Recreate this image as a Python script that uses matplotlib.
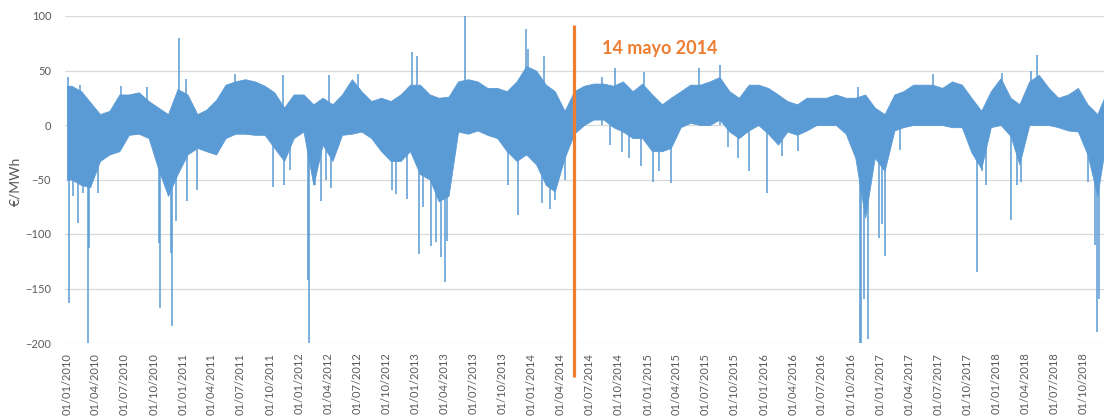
import matplotlib
matplotlib.use('Agg')
import matplotlib.pyplot as plt
import numpy as np
import pandas as pd

BLUE = '#5B9BD5'
ORANGE = '#ED7D31'
GREY = '#595959'

# monthly band of the price spread (EUR/MWh), Jan 2010 .. Dec 2018
band_hi = [40, 35, 25, 14, 17, 32, 32, 34, 26, 20, 14, 37,
           32, 14, 18, 27, 41, 44, 46, 44, 40, 34, 20, 32,
           32, 23, 29, 23, 32, 46, 35, 26, 29, 26, 32, 41,
           41, 32, 29, 30, 44, 46, 44, 38, 38, 35, 44, 58,
           54, 41, 35, 17, 35, 40, 42, 42, 40, 44, 35, 42,
           32, 23, 29, 35, 41, 41, 44, 48, 35, 29, 41, 41,
           38, 32, 26, 23, 29, 29, 29, 32, 29, 29, 32, 20,
           14, 32, 35, 41, 41, 41, 38, 44, 41, 29, 17, 35,
           47, 29, 23, 44, 50, 38, 29, 32, 38, 23, 14, 35]
band_lo = [-55, -60, -62, -38, -32, -29, -14, -8, -17, -45, -70, -50,
           -32, -26, -29, -32, -17, -8, -8, -9, -14, -26, -38, -17,
           -11, -60, -23, -38, -14, -8, -11, -17, -29, -38, -38, -29,
           -50, -55, -75, -70, -11, -8, -5, -14, -17, -29, -38, -32,
           -41, -60, -66, -35, -8, 0, 5, 5, -2, -11, -17, -17,
           -29, -29, -26, -2, 2, 0, 0, 5, -11, -17, -5, 0,
           -8, -23, -11, -14, -5, 0, 0, 0, -8, -35, -90, -35,
           -47, -5, -2, 0, 0, 0, 0, -2, -2, -30, -45, -2,
           0, -10, -41, 0, 0, 0, -2, -5, -11, -32, -70, -10]

# isolated peaks that stick out of the band
spike_dates = ['2010-01-08', '2010-01-20', '2010-02-05', '2010-02-20', '2010-03-07',
               '2010-03-10', '2010-04-10', '2010-10-18', '2010-10-21', '2010-11-25',
               '2010-11-28', '2010-12-10', '2010-12-20', '2011-01-15', '2011-02-15',
               '2011-10-10', '2011-11-15', '2011-12-05', '2012-01-28', '2012-02-01',
               '2012-02-20', '2012-03-10', '2012-03-25', '2012-04-10', '2012-10-18',
               '2012-11-01', '2012-12-06', '2012-12-21', '2013-01-12', '2013-01-25',
               '2013-02-18', '2013-03-06', '2013-03-21', '2013-04-03', '2013-04-10',
               '2013-06-07', '2013-10-20', '2013-11-18', '2013-12-13', '2013-12-20',
               '2014-02-03', '2014-02-08', '2014-02-28', '2014-03-16', '2014-04-15',
               '2014-05-16', '2014-09-04', '2014-09-20', '2014-10-12', '2014-11-03',
               '2014-12-10', '2014-12-20', '2015-01-19', '2015-02-06', '2015-03-16',
               '2015-08-15', '2015-09-10', '2015-10-12', '2015-11-15', '2016-01-10',
               '2016-02-27', '2016-04-18', '2016-10-30', '2016-11-03', '2016-11-10',
               '2016-11-25', '2016-12-28', '2017-01-08', '2017-01-15', '2017-03-06',
               '2017-11-01', '2017-11-18', '2017-12-01', '2018-02-18', '2018-03-06',
               '2018-03-20', '2018-05-10', '2018-10-18', '2018-10-28', '2018-11-08',
               '2018-11-15', '2018-11-20',
               '2010-01-04', '2010-02-10', '2010-06-20', '2010-09-10', '2011-01-10',
               '2011-06-15', '2011-11-10', '2012-04-05', '2012-07-05', '2013-01-05',
               '2014-08-10', '2015-06-10', '2016-10-25', '2017-06-15', '2018-01-20',
               '2018-04-20']
spike_vals = [-163, -65, -90, -62, -200,
              -113, -62, -108, -168, -117,
              -184, -88, 80, -70, -60,
              -57, -55, -41, -142, -200,
              -55, -70, -50, -58, -60,
              -63, -68, 67, -118, -75,
              -111, -107, -121, -144, -106,
              100, -55, -83, 88, 70,
              -72, 63, -77, -69, -50,
              40, -18, 52, -25, -30,
              -38, 49, -52, -42, -53,
              55, -20, -30, -42, -62,
              -28, -24, -200, -200, -160,
              -196, -104, -91, -120, -23,
              -135, -42, -55, -87, -55,
              -52, 64, -52, -40, -110,
              -190, -160,
              44, 37, 36, 35, 42,
              47, 46, 46, 47, 63,
              44, 52, 35, 47, 48,
              50]

marker_date = pd.Timestamp('2014-05-14')
marker_text = '14 mayo 2014'
y_ticks = [-200, -150, -100, -50, 0, 50, 100]
x_ticks = pd.date_range('2010-01-01', '2018-10-01', freq='QS')


def main():
    fig = plt.figure(figsize=(11.04, 4.17), dpi=100)
    ax = fig.add_axes([65 / 1104, 74 / 417, 1039 / 1104, 327 / 417])

    # band values sit in the middle of each month, held flat at both ends
    mids = pd.date_range('2010-01-01', periods=len(band_hi), freq='MS') + pd.Timedelta(days=14)
    xs = [pd.Timestamp('2010-01-01')] + list(mids) + [pd.Timestamp('2018-12-07')]
    hi = np.array([band_hi[0]] + band_hi + [band_hi[-1]]) - 4
    lo = np.array([band_lo[0]] + band_lo + [band_lo[-1]])
    lo = np.where(lo < -10, lo + 5, lo)
    ax.fill_between(xs, lo, hi, color=BLUE, lw=0.6, edgecolor=BLUE, zorder=2)

    dates = pd.to_datetime(spike_dates)
    ax.vlines(dates, 0, spike_vals, color=BLUE, lw=1.1, zorder=2)

    # marker for the date of the change
    ax.plot([marker_date, marker_date], [92, -231], color=ORANGE, lw=2.3,
            clip_on=False, zorder=5, solid_capstyle='butt')
    ax.annotate(marker_text, (marker_date, 70), xytext=(20, 0),
                textcoords='offset points', ha='left', va='center',
                color=ORANGE, fontsize=13, fontweight='bold', family='Lato')

    ax.set_xlim(pd.Timestamp('2009-12-26'), pd.Timestamp('2018-12-06'))
    ax.set_ylim(-200, 100)
    ax.set_yticks(y_ticks)
    ax.set_xticks(x_ticks)
    ax.set_xticklabels([d.strftime('%d/%m/%Y') for d in x_ticks], rotation=90)
    ax.tick_params(length=0, colors=GREY, labelsize=8)
    ax.tick_params(axis='y', pad=10)
    ax.tick_params(axis='x', pad=7)
    for lab in ax.get_xticklabels() + ax.get_yticklabels():
        lab.set_family('Lato')
    for s in ax.spines.values():
        s.set_visible(False)
    ax.grid(axis='y', color='#D9D9D9', lw=0.9, zorder=0)
    ax.set_axisbelow(True)

    fig.text(15 / 1104, 1 - 181 / 417, '€/MWh', rotation=90, ha='center',
             va='center', color=GREY, fontsize=10, family='Lato')

    fig.savefig('out.png', dpi=100)


if __name__ == "__main__":
    main()
